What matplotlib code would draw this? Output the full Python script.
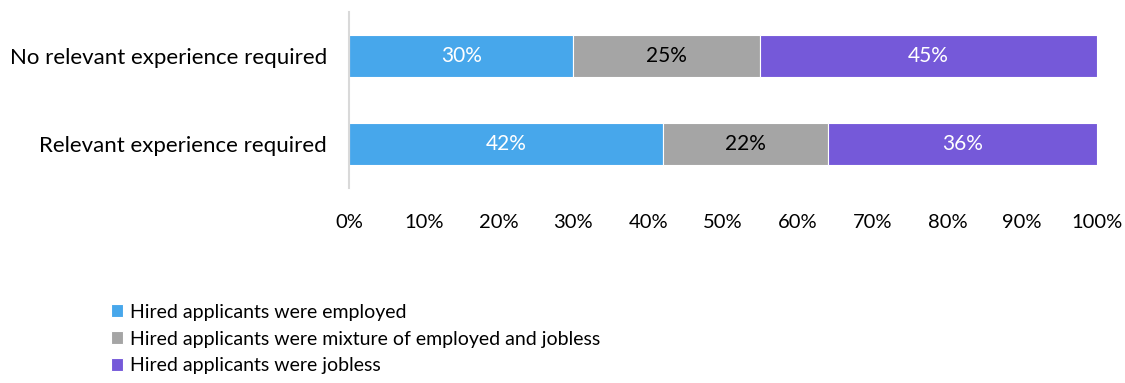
import matplotlib.pyplot as plt

categories = ["Relevant experience required", "No relevant experience required"]
series_names = [
    "Hired applicants were employed",
    "Hired applicants were mixture of employed and jobless",
    "Hired applicants were jobless",
]
employed = [42, 30]
mixture = [22, 25]
jobless = [36, 45]
x_ticks = [0, 10, 20, 30, 40, 50, 60, 70, 80, 90, 100]

colors = ["#47A7EB", "#A5A5A5", "#7559D9"]
text_colors = ["white", "black", "white"]

plt.rcParams['font.family'] = ['Lato', 'DejaVu Sans']

fig = plt.figure(figsize=(11.25, 3.83), dpi=100)
ax = fig.add_axes([349 / 1125, 1 - 188 / 383, (1097 - 349) / 1125, 176 / 383])

left = [0, 0]
for name, vals, col, tcol in zip(series_names, [employed, mixture, jobless], colors, text_colors):
    bars = ax.barh(categories, vals, left=left, height=0.47, color=col,
                   edgecolor="white", linewidth=0.8, label=name)
    for b, v in zip(bars, vals):
        ax.text(b.get_x() + b.get_width() / 2, b.get_y() + b.get_height() / 2,
                f"{v}%", ha="center", va="center", color=tcol, fontsize=15)
    left = [l + v for l, v in zip(left, vals)]

ax.set_xlim(0, 100)
ax.set_ylim(-0.5, 1.5)
ax.set_xticks(x_ticks)
ax.set_xticklabels([f"{t}%" for t in x_ticks], fontsize=14.5)
ax.tick_params(axis="x", length=0, pad=19)
ax.tick_params(axis="y", length=0, pad=16, labelsize=16)
for s in ["top", "right", "bottom"]:
    ax.spines[s].set_visible(False)
ax.spines["left"].set_color("#D9D9D9")
ax.spines["left"].set_linewidth(1.5)

handles, labels = ax.get_legend_handles_labels()
fig.legend(handles, labels, loc="upper left", bbox_to_anchor=(103 / 1125, 1 - 296 / 383),
           frameon=False, fontsize=14, handlelength=0.65, handleheight=0.65,
           handletextpad=0.35, labelspacing=0.5, borderaxespad=0)

fig.savefig("out.png", dpi=100)
